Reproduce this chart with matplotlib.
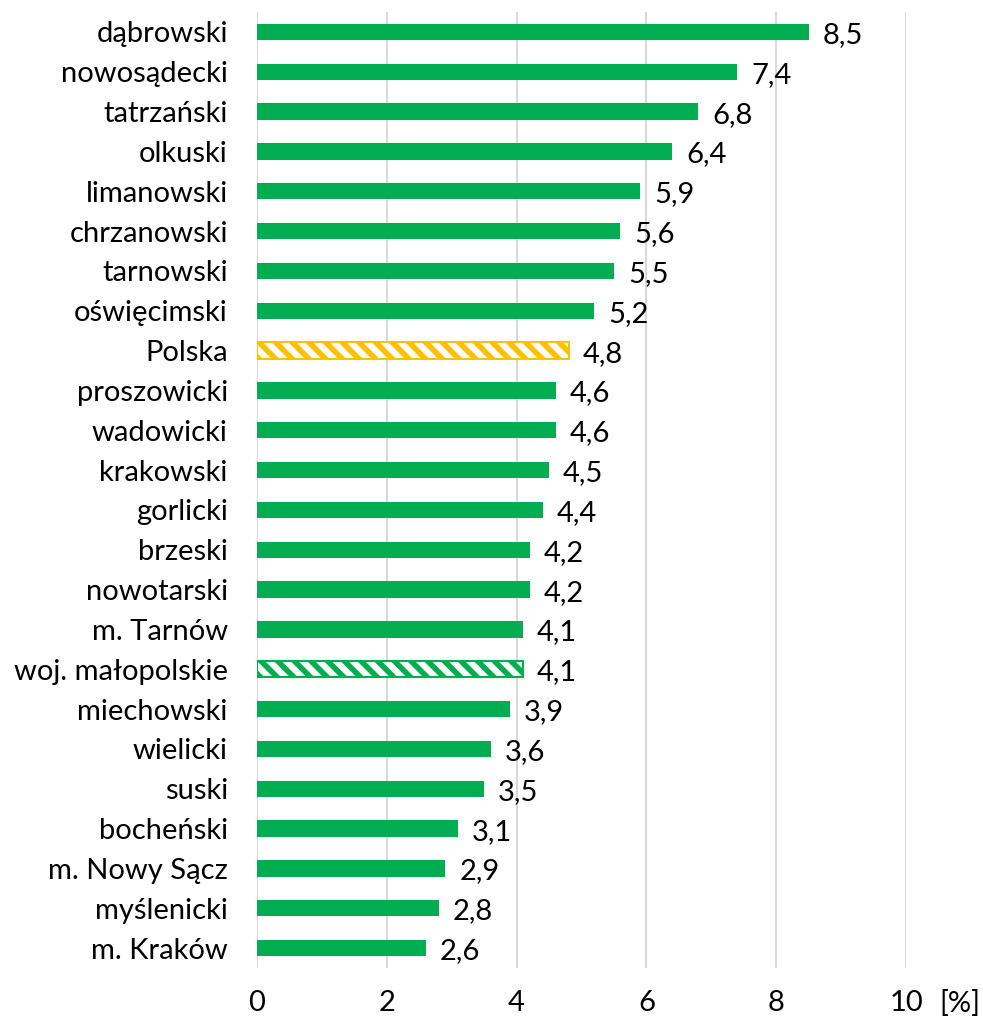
import matplotlib
matplotlib.use("Agg")
import matplotlib.pyplot as plt

categories = ["dąbrowski", "nowosądecki", "tatrzański", "olkuski", "limanowski",
              "chrzanowski", "tarnowski", "oświęcimski", "Polska", "proszowicki",
              "wadowicki", "krakowski", "gorlicki", "brzeski", "nowotarski",
              "m. Tarnów", "woj. małopolskie", "miechowski", "wielicki", "suski",
              "bocheński", "m. Nowy Sącz", "myślenicki", "m. Kraków"]
values = [8.5, 7.4, 6.8, 6.4, 5.9, 5.6, 5.5, 5.2, 4.8, 4.6, 4.6, 4.5, 4.4,
          4.2, 4.2, 4.1, 4.1, 3.9, 3.6, 3.5, 3.1, 2.9, 2.8, 2.6]
xticks = [0, 2, 4, 6, 8, 10]

GREEN = "#00AD50"
YELLOW = "#FFC000"
FS = 21

plt.rcParams['font.family'] = ['Lato', 'DejaVu Sans']
plt.rcParams['hatch.linewidth'] = 4.0

fig = plt.figure(figsize=(9.83, 10.23), dpi=100)
ax = fig.add_axes([257/983, 1-968/1023, (906-257)/983, (968-12)/1023])

n = len(categories)
ypos = list(range(n))
for i, (c, v) in enumerate(zip(categories, values)):
    if c == "Polska":
        ax.barh(i, v, height=0.41, facecolor="white", edgecolor=YELLOW,
                hatch="\\\\", linewidth=1.5, zorder=3)
    elif c == "woj. małopolskie":
        ax.barh(i, v, height=0.41, facecolor="white", edgecolor=GREEN,
                hatch="\\\\", linewidth=1.5, zorder=3)
    else:
        ax.barh(i, v, height=0.41, color=GREEN, linewidth=0, zorder=3)
    ax.annotate(f"{v:.1f}".replace(".", ","), xy=(v, i), xytext=(14, -3),
                textcoords="offset pixels", ha="left", va="center",
                fontsize=FS, color="black")

ax.set_ylim(n - 0.5, -0.5)
ax.set_xlim(0, 10)
ax.set_yticks(ypos)
ax.set_yticklabels(categories, fontsize=FS)
ax.set_xticks(xticks)
ax.set_xticklabels([str(t) for t in xticks], fontsize=FS)
ax.tick_params(axis='both', length=0)
ax.tick_params(axis='y', pad=21)
ax.tick_params(axis='x', pad=16)
for s in ax.spines.values():
    s.set_visible(False)
ax.grid(axis='x', color="#D9D9D9", linewidth=1.5, zorder=0)
ax.set_axisbelow(True)

fig.text(960/983, 1-1003/1023, "[%]", fontsize=FS, ha="center", va="center")

fig.savefig("out.png", dpi=100)
